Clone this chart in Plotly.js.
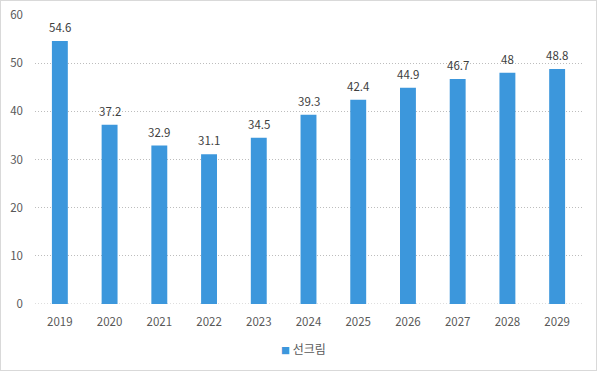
<!DOCTYPE html>
<html>
<head>
<meta charset="utf-8">
<script src="https://cdn.plot.ly/plotly-3.0.1.min.js"></script>
<style>
html,body{margin:0;padding:0;background:#fff;}
#wrap{position:relative;width:597px;height:371px;}
#chart{width:597px;height:371px;}
#frame{position:absolute;left:0;top:0;width:595px;height:369px;border:1px solid #d9d9d9;pointer-events:none;}
</style>
</head>
<body>
<div id="wrap"><div id="chart"></div><div id="frame"></div></div>
<script>
var years = ['2019','2020','2021','2022','2023','2024','2025','2026','2027','2028','2029'];
var values = [54.6, 37.2, 32.9, 31.1, 34.5, 39.3, 42.4, 44.9, 46.7, 48, 48.8];
var seriesName = '선크림';
var yTicks = [0, 10, 20, 30, 40, 50, 60];

var font = 'Malgun Gothic, "Noto Sans CJK KR", "Noto Sans", sans-serif';
var barColor = '#3c97dc';

var trace = {
  type: 'bar',
  x: years,
  y: values,
  name: seriesName,
  marker: {color: barColor},
  showlegend: false
};

var labelAnnotations = years.map(function (yr, i) {
  return {
    x: i, y: values[i], xref: 'x', yref: 'y',
    text: String(values[i]),
    showarrow: false,
    yanchor: 'bottom',
    yshift: 4,
    font: {family: font, size: 11.5, color: '#404040'}
  };
});

var legendAnnotation = {
  xref: 'paper', yref: 'paper',
  x: 0.49, y: -0.155, xanchor: 'center', yanchor: 'middle',
  showarrow: false,
  text: '<span style="color:' + barColor + ';font-size:9px">■</span> ' + seriesName,
  font: {family: font, size: 12, color: '#595959'}
};

var layout = {
  width: 597,
  height: 371,
  margin: {l: 35, r: 15, t: 15, b: 67},
  paper_bgcolor: '#ffffff',
  plot_bgcolor: '#ffffff',
  bargap: 0.68,
  font: {family: font, size: 11, color: '#595959'},
  xaxis: {
    type: 'category',
    categoryarray: years,
    range: [-0.5, years.length - 0.5],
    showgrid: false,
    showline: false,
    zeroline: false,
    ticks: '',
    automargin: false,
    ticklabelstandoff: 9,
    tickfont: {family: font, size: 11.5, color: '#595959'}
  },
  yaxis: {
    range: [0, 60],
    tickvals: yTicks,
    showgrid: true,
    gridcolor: '#bdbdbd',
    griddash: '1px,2px',
    gridwidth: 1,
    zeroline: false,
    showline: false,
    ticks: '',
    automargin: false,
    ticklabelstandoff: 11,
    tickfont: {family: font, size: 11.5, color: '#595959'}
  },
  shapes: [{
    type: 'line', xref: 'paper', yref: 'y', x0: 0, x1: 1, y0: 0, y1: 0,
    line: {color: '#bdbdbd', width: 1, dash: '1px,2px'}, layer: 'below'
  }],
  annotations: labelAnnotations.concat([legendAnnotation]),
  showlegend: false
};

Plotly.newPlot('chart', [trace], layout, {displayModeBar: false, staticPlot: true});
</script>
</body>
</html>
